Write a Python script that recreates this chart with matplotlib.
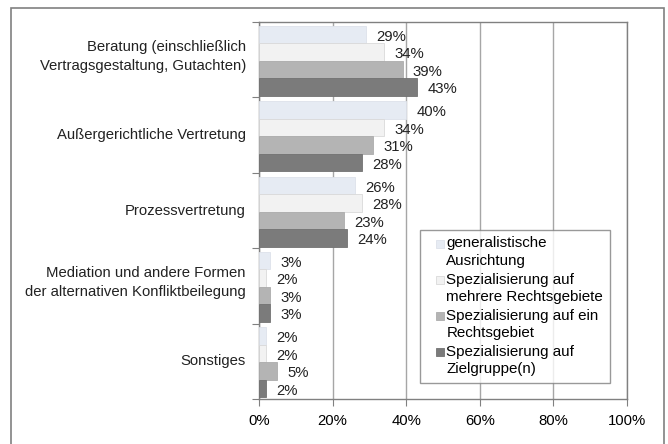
"""
Horizontal grouped bar chart: Tätigkeitsfelder nach Ausrichtung der Kanzlei
"""
import matplotlib
matplotlib.use('Agg')
import matplotlib.pyplot as plt
import matplotlib.patches as patches
from matplotlib.legend_handler import HandlerPatch
import numpy as np

plt.rcParams['font.family'] = ['Liberation Sans', 'DejaVu Sans']

categories = [
    'Beratung (einschließlich\nVertragsgestaltung, Gutachten)',
    'Außergerichtliche Vertretung',
    'Prozessvertretung',
    'Mediation und andere Formen\nder alternativen Konfliktbeilegung',
    'Sonstiges',
]
series_names = [
    'generalistische\nAusrichtung',
    'Spezialisierung auf\nmehrere Rechtsgebiete',
    'Spezialisierung auf ein\nRechtsgebiet',
    'Spezialisierung auf\nZielgruppe(n)',
]
generalist = [29, 40, 26, 3, 2]
mehrere = [34, 34, 28, 2, 2]
ein_gebiet = [39, 31, 23, 3, 5]
zielgruppe = [43, 28, 24, 3, 2]

series = [generalist, mehrere, ein_gebiet, zielgruppe]
colors = ['#e6ebf3', '#f2f2f2', '#b4b4b4', '#7b7b7b']
edges = ['#dde2ea', '#d9d9d9', '#acacac', '#727272']
FS = 10.7
LEG_FS = 10.9


def top_square(legend, orig_handle, xdescent, ydescent, width, height, fontsize):
    # small square at the right end of the handle box, next to the first text line
    sq = 0.53 * fontsize
    return patches.Rectangle((-xdescent + width - sq, -ydescent + 0.6 * fontsize), sq, sq)


fig = plt.figure(figsize=(6.68, 4.44), dpi=100)
ax = fig.add_axes([259 / 668, 1 - 399 / 444, 368 / 668, 377 / 444])

# outer frame around the whole chart
fig.patches.append(patches.Rectangle((11 / 668, -0.02), 653 / 668, 1 - 8 / 444 + 0.02,
                                     transform=fig.transFigure, fill=False,
                                     edgecolor='#808080', linewidth=1.2))

n = len(categories)
bar_h = 0.232
for i, vals in enumerate(series):
    y = np.arange(n) + 0.05 + bar_h * (i + 0.5)
    ax.barh(y, vals, height=bar_h, color=colors[i], edgecolor=edges[i],
            linewidth=0.6, zorder=3)
    for yy, v in zip(y, vals):
        ax.text(v + 2.8, yy + 0.03, f'{v}%', va='center', ha='left',
                fontsize=FS, color='#222222', zorder=4)

ax.set_xlim(0, 100)
ax.set_ylim(n, 0)
ax.set_xticks(np.arange(0, 101, 20))
ax.set_xticklabels([f'{t}%' for t in range(0, 101, 20)], fontsize=FS)
ax.set_yticks(np.arange(n + 1))
ax.set_yticklabels([])
for i, cat in enumerate(categories):
    nlines = cat.count('\n') + 1
    ax.text(-0.036, i + 0.5 - 0.04 * (nlines - 1), cat,
            transform=ax.get_yaxis_transform(), ha='right', va='center',
            fontsize=FS, linespacing=1.45, color='#222222')
ax.tick_params(axis='y', which='major', length=5, color='#808080')
ax.tick_params(axis='x', length=5, color='#808080', pad=6)
ax.grid(axis='x', color='#a6a6a6', linewidth=1.0, zorder=0)
for s in ax.spines.values():
    s.set_color('#808080')
    s.set_linewidth(1.0)

handles = [patches.Rectangle((0, 0), 1, 1, facecolor=colors[i], edgecolor=edges[i],
                             linewidth=0.6, label=series_names[i])
           for i in range(len(series))]
leg = ax.legend(handles=handles, loc='lower right',
                bbox_to_anchor=(610 / 668, 1 - 383 / 444),
                bbox_transform=fig.transFigure, fontsize=LEG_FS, frameon=True,
                fancybox=False, edgecolor='#808080', handlelength=1.15,
                handleheight=0.6, handletextpad=0.15, labelspacing=0.3,
                borderpad=0.45, borderaxespad=0,
                handler_map={patches.Rectangle: HandlerPatch(patch_func=top_square)})
leg.get_frame().set_linewidth(1.0)
for t in leg.get_texts():
    t.set_linespacing(1.32)

plt.savefig('out.png', dpi=100)
